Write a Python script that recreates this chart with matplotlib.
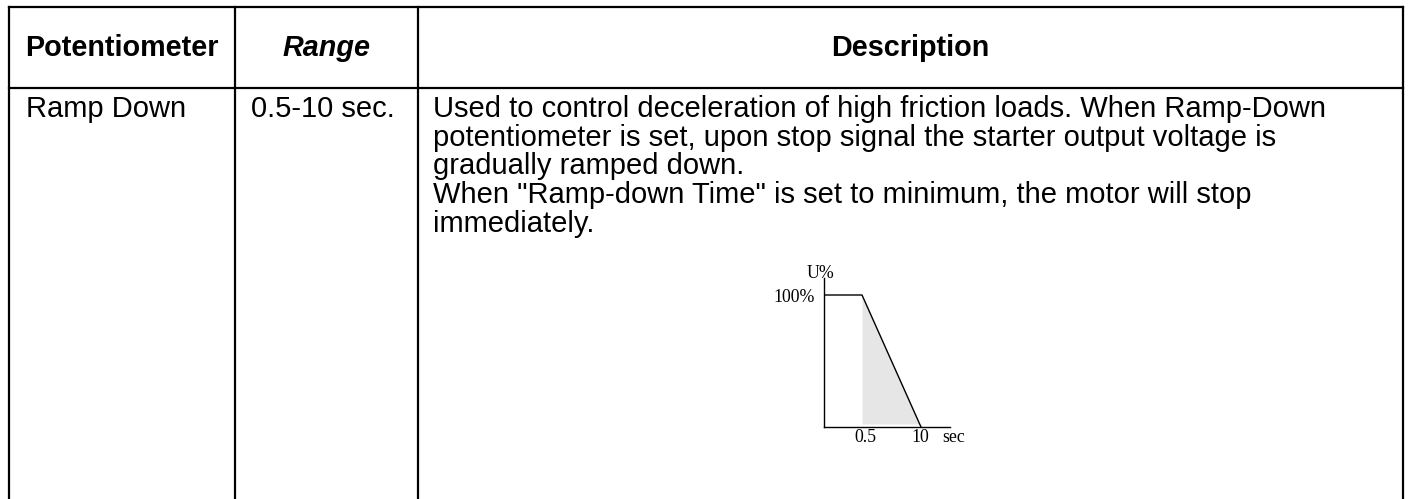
import matplotlib.pyplot as plt

# table content
headers = ['Potentiometer', 'Range', 'Description']
row_name = 'Ramp Down'
row_range = '0.5-10 sec.'
row_desc = [
    'Used to control deceleration of high friction loads. When Ramp-Down',
    'potentiometer is set, upon stop signal the starter output voltage is',
    'gradually ramped down.',
    'When "Ramp-down Time" is set to minimum, the motor will stop',
    'immediately.',
]

# ramp-down sketch (schematic time axis)
ramp_t = [0, 38, 97]
ramp_u = [100, 100, 0]
time_ticks = [38, 97]
time_labels = ['0.5', '10']

W, H = 1410, 499
fig = plt.figure(figsize=(W / 100, H / 100), dpi=100)
ax = fig.add_axes([0, 0, 1, 1])
ax.set_xlim(0, W)
ax.set_ylim(H, 0)
ax.axis('off')

font = 'Liberation Sans'
fs_head = 20.7
fs = 21

# grid lines of the table
x_left, x_c1, x_c2, x_right = 9, 235, 418, 1403
y_top, y_head = 7, 88
lw = 1.6
ax.plot([x_left, x_right], [y_top, y_top], color='black', lw=lw)
ax.plot([x_left, x_right], [y_head, y_head], color='black', lw=lw)
for x in [x_left, x_c1, x_c2, x_right]:
    ax.plot([x, x], [y_top, H], color='black', lw=lw)

# header
ax.text((x_left + x_c1) / 2, 48, headers[0], ha='center', va='center',
        fontsize=fs_head, fontweight='bold', family=font)
ax.text((x_c1 + x_c2) / 2, 48, headers[1], ha='center', va='center',
        fontsize=fs_head, fontweight='bold', style='italic', family=font)
ax.text((x_c2 + x_right) / 2, 48, headers[2], ha='center', va='center',
        fontsize=fs_head, fontweight='bold', family=font)

# body
ax.text(26, 117, row_name, ha='left', va='baseline', fontsize=fs, family=font)
ax.text(251, 117, row_range, ha='left', va='baseline', fontsize=fs, family=font)
for i, line in enumerate(row_desc):
    ax.text(433, 117 + i * 28.7, line, ha='left', va='baseline',
            fontsize=fs, family=font)

# inset sketch
x0, x1 = 824, 950
y0, y1 = 278, 427
py = 100 / (427 - 295)  # percent per pixel
ins = fig.add_axes([x0 / W, 1 - y1 / H, (x1 - x0) / W, (y1 - y0) / H])
ins.set_xlim(0, x1 - x0)
ins.set_ylim(0, (y1 - y0) * py)
ins.fill_between(ramp_t[1:], ramp_u[1:], 3 * py, color='#e6e6e6', lw=0)
ins.plot(ramp_t, ramp_u, color='black', lw=1.0)
for s in ['top', 'right']:
    ins.spines[s].set_visible(False)
for s in ['left', 'bottom']:
    ins.spines[s].set_linewidth(1.0)
ins.set_xticks([])
ins.set_yticks([])
ins.patch.set_alpha(0)

sfont = 'Liberation Serif'
sfs = 12.8
for t, lab in zip(time_ticks, time_labels):
    ins.text(t + (3 if t < 50 else -1), -11 * py, lab, ha='center', va='center',
             fontsize=sfs, family=sfont)
ins.text(118, -11 * py, 'sec', ha='left', va='center', fontsize=sfs, family=sfont)
ins.text(-9, 100 - 2 * py, '100%', ha='right', va='center', fontsize=sfs, family=sfont)
ins.text(-4, (427 - 273) * py, 'U%', ha='center', va='center', fontsize=sfs, family=sfont)

fig.savefig('out.png', dpi=100)
